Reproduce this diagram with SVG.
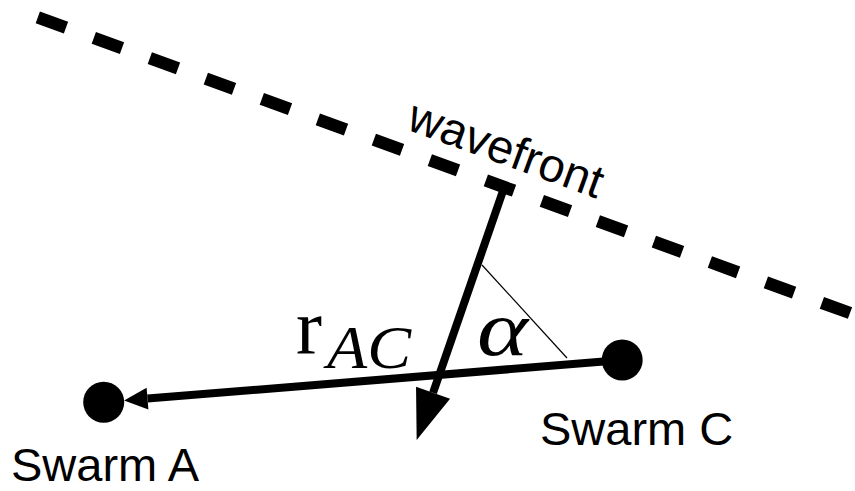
<svg xmlns="http://www.w3.org/2000/svg" width="855" height="491" viewBox="0 0 855 491">
  <style>
    .label { font-family: "Liberation Sans", Arial, sans-serif; font-size: 47px; fill: #000; }
    .math { font-family: "Liberation Serif", "Times New Roman", serif; fill: #000; }
    .thick { stroke: #000; stroke-width: 8; fill: none; stroke-linecap: butt; }
    .node { fill: #000; }
  </style>
  <defs>
    <marker id="bigHead" markerUnits="userSpaceOnUse" markerWidth="50" markerHeight="36" refX="0" refY="18" orient="auto" overflow="visible">
      <path d="M0,0 L50,18 L0,36 Z" fill="#000"/>
    </marker>
    <marker id="smallHead" markerUnits="userSpaceOnUse" markerWidth="24" markerHeight="22" refX="0" refY="11" orient="auto" overflow="visible">
      <path d="M0,0 L23.5,11 L0,22 Z" fill="#000"/>
    </marker>
  </defs>
  <rect width="855" height="491" fill="#fff"/>

  <g id="wavefront">
    <line x1="37.8" y1="17.4" x2="850" y2="313" stroke="#000" stroke-width="12.5" stroke-dasharray="30 29.6" fill="none"/>
    <text class="label" transform="translate(405,129) rotate(20)" font-size="46">wavefront</text>
  </g>

  <g id="connectors">
    <line class="thick" x1="504" y1="188" x2="433.05" y2="392.75" marker-end="url(#bigHead)"/>
    <line class="thick" x1="622.2" y1="360" x2="147.5" y2="398.6" marker-end="url(#smallHead)"/>
    <line x1="482" y1="265" x2="567" y2="358" stroke="#000" stroke-width="1.2"/>
    <g id="label-rAC">
      <text class="math" x="296" y="353" font-size="78">r</text>
      <text class="math" x="327" y="368" font-size="62" font-style="italic" textLength="84" lengthAdjust="spacingAndGlyphs">AC</text>
    </g>
    <g id="label-alpha">
      <text class="math" x="477" y="355" font-size="78" font-style="italic" textLength="51" lengthAdjust="spacingAndGlyphs">α</text>
    </g>
  </g>

  <g id="swarmA">
    <circle class="node" cx="103.7" cy="402.2" r="20.5"/>
    <text class="label" x="11" y="481">Swarm A</text>
  </g>

  <g id="swarmC">
    <circle class="node" cx="622.2" cy="360" r="20.5"/>
    <text class="label" x="540" y="445">Swarm C</text>
  </g>
</svg>
